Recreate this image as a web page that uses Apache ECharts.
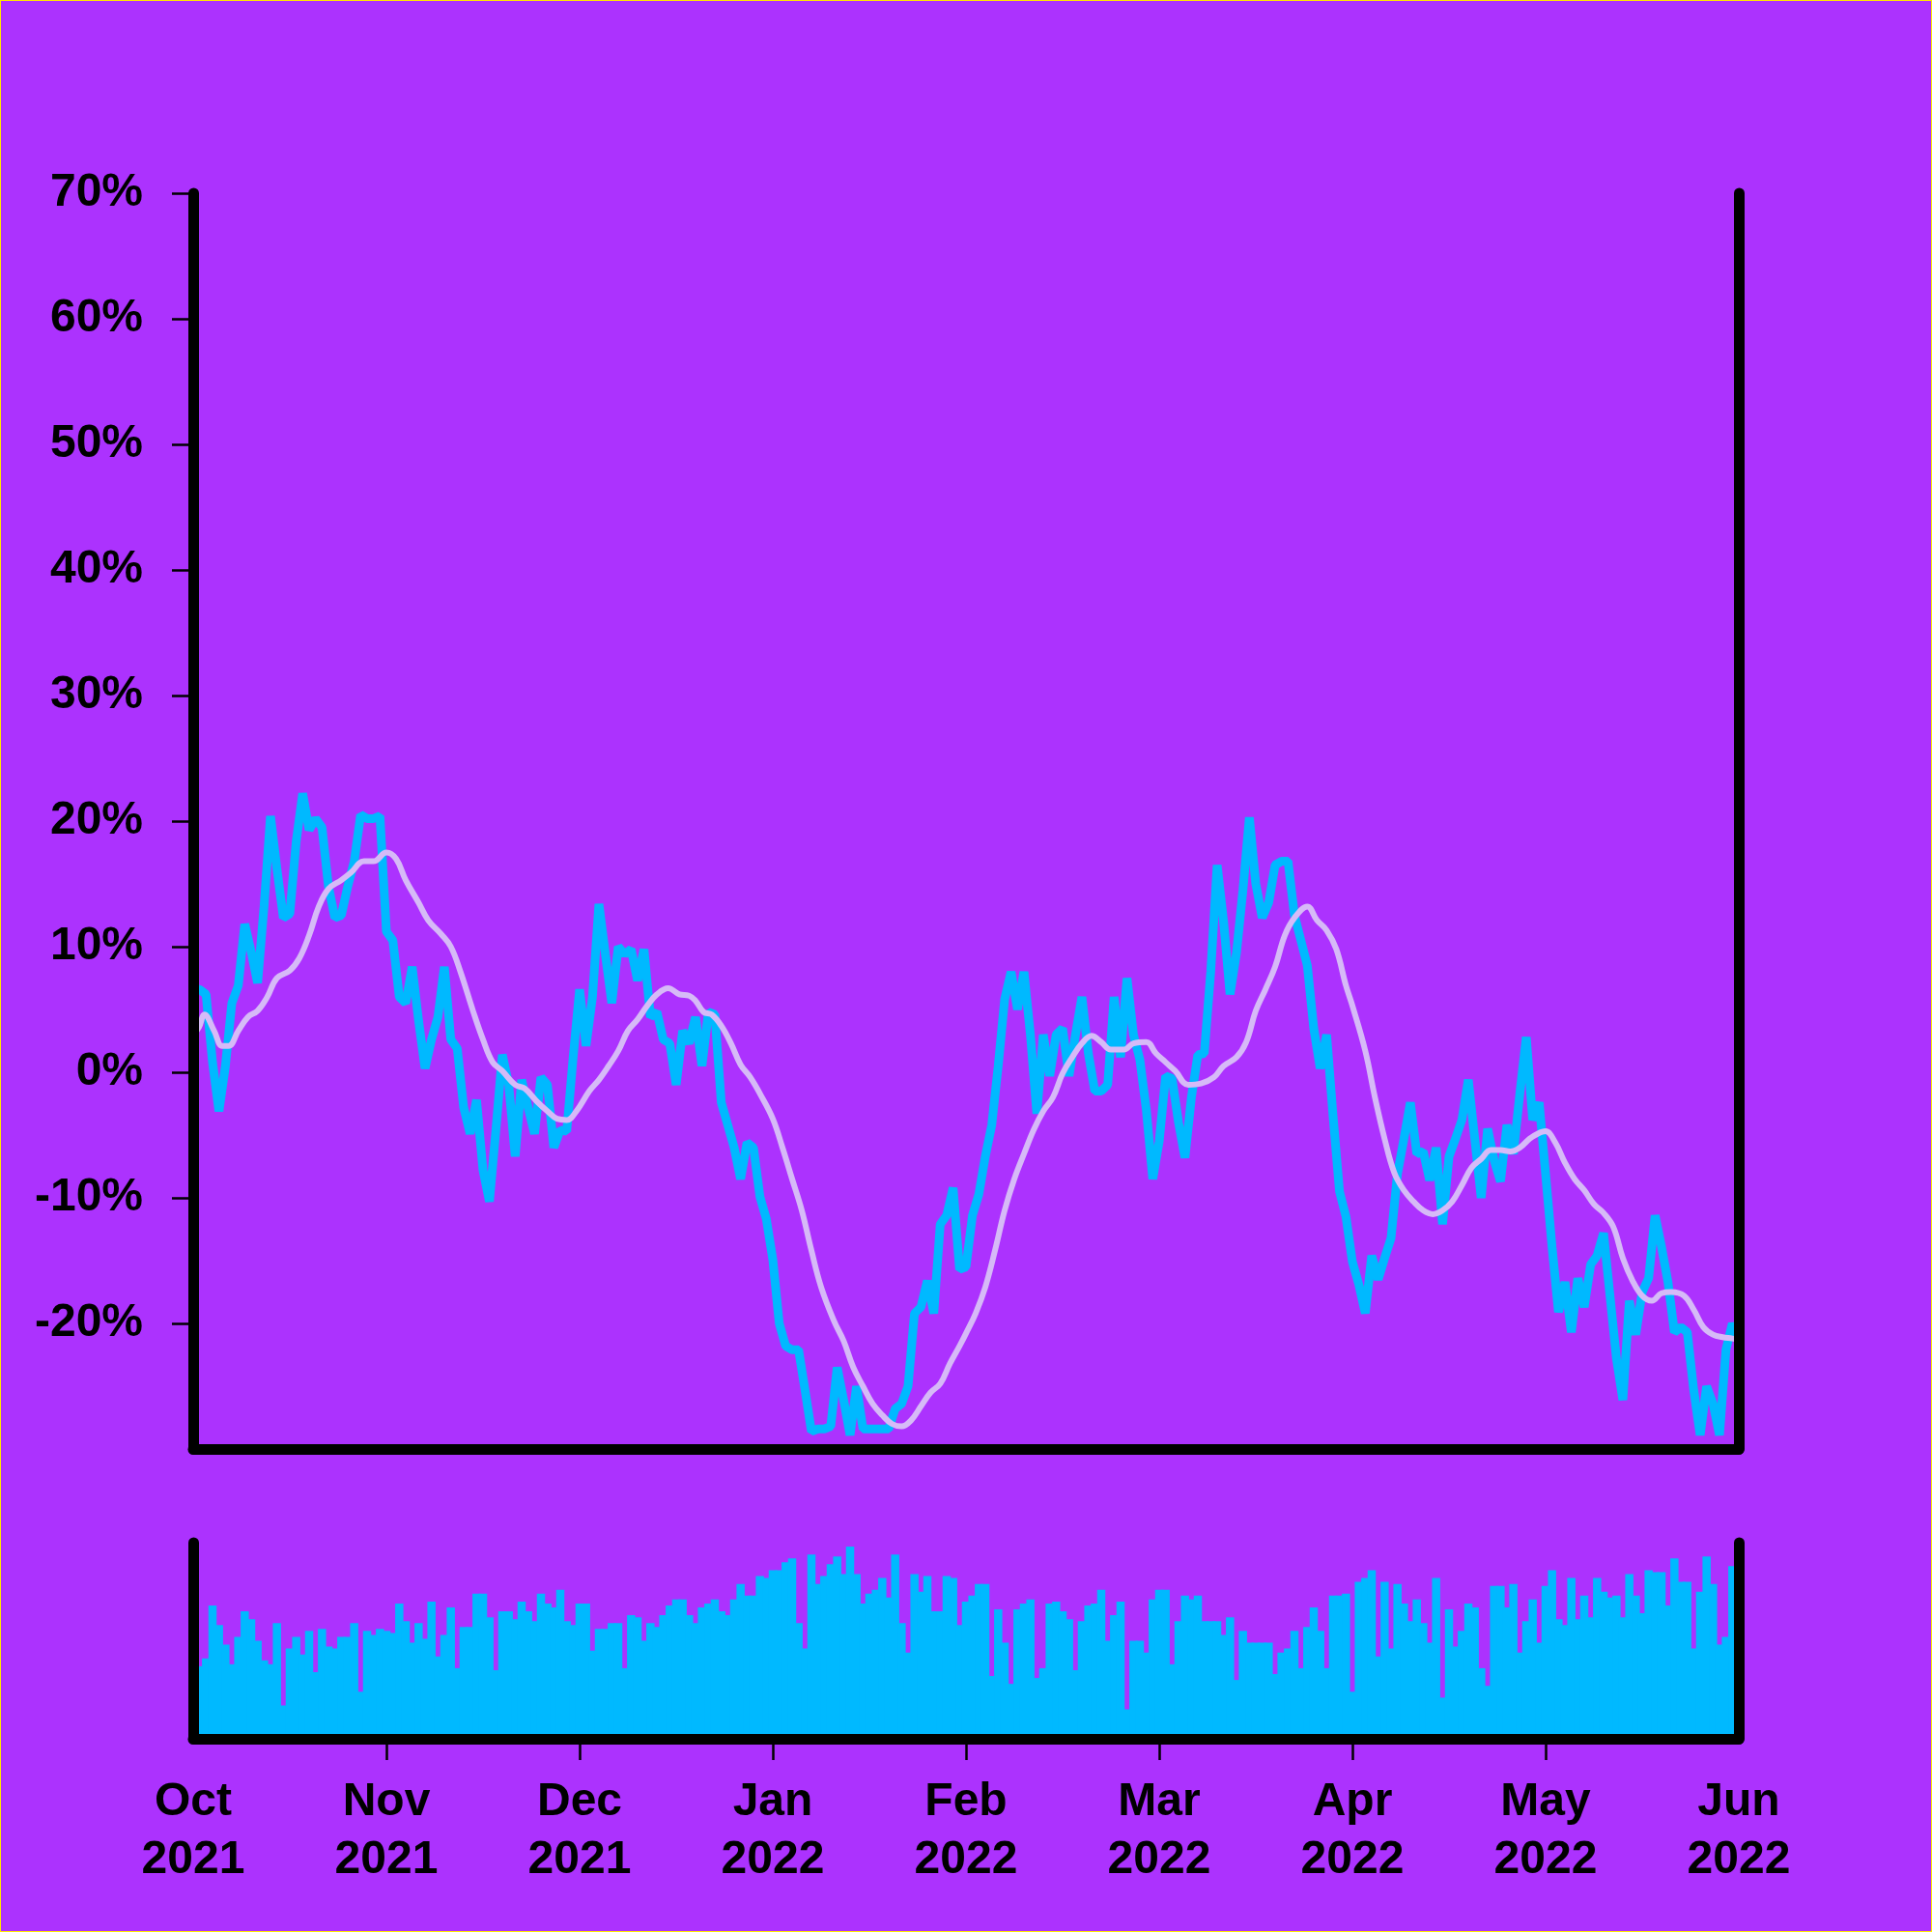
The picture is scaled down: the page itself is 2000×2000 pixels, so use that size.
<!DOCTYPE html>
<html><head><meta charset="utf-8">
<script src="https://cdn.jsdelivr.net/npm/echarts@6/dist/echarts.min.js"></script>
<style>html,body{margin:0;padding:0;background:#AC32FE;}#c{width:2000px;height:2000px;box-sizing:border-box;border:1px solid #FFE600;}</style>
</head><body><div id="c"></div>
<script>
// ---- data ----
const monthLabels = ['Oct\n2021','Nov\n2021','Dec\n2021','Jan\n2022','Feb\n2022','Mar\n2022','Apr\n2022','May\n2022','Jun\n2022'];
const monthTickPos = [0,30,60,90,120,150,180,210,240];
const yTickLabels = [-20,-10,0,10,20,30,40,50,60,70];

// daily return (%) – index 0 = 1 Oct 2021
const returns = [
 6.6, 6.6, 6.2, 0.8, -3.1, 0.5, 5.5, 6.9, 11.8, 9.6,
 7.1, 13.2, 20.4, 16.2, 12.3, 12.6, 18.4, 22.2, 19.3, 20.2,
 19.5, 14.8, 12.3, 12.5, 14.8, 16.8, 20.5, 20.2, 20.2, 20.4,
 11.2, 10.5, 6.0, 5.5, 8.4, 4.1, 0.3, 2.6, 4.4, 8.4,
 2.6, 1.9, -2.8, -4.9, -2.2, -7.8, -10.3, -4.6, 1.4, -1.0,
 -6.7, -0.6, -2.8, -4.9, -0.4, -1.0, -6.0, -4.6, -4.7, 1.2,
 6.6, 2.1, 6.0, 13.4, 9.4, 5.5, 10.0, 9.4, 9.8, 7.3,
 9.8, 4.4, 4.8, 2.6, 2.3, -1.0, 3.3, 2.3, 4.4, 0.5,
 4.8, 4.6, -2.4, -4.2, -6.0, -8.5, -5.6, -6.0, -9.9, -11.7,
 -14.9, -20.0, -21.8, -22.1, -22.1, -25.3, -28.6, -28.4, -28.4, -28.2,
 -23.5, -26.1, -28.9, -25.0, -28.4, -28.4, -28.4, -28.4, -28.4, -26.8,
 -26.4, -25.0, -19.2, -18.7, -16.6, -19.2, -12.1, -11.4, -9.2, -15.7,
 -15.5, -11.4, -9.7, -6.7, -4.2, 0.5, 5.8, 8.0, 5.0, 8.0,
 3.0, -3.3, 3.0, -0.3, 3.0, 3.5, -0.3, 3.0, 6.0, 1.5,
 -1.5, -1.5, -1.0, 6.0, 1.2, 7.5, 3.0, 1.0, -3.0, -8.5,
 -5.5, -0.3, -0.5, -4.0, -6.8, -2.0, 1.4, 1.5, 8.0, 16.5,
 12.0, 6.2, 9.5, 14.5, 20.3, 15.0, 12.3, 13.5, 16.5, 16.8,
 16.8, 12.5, 10.5, 8.5, 3.5, 0.3, 3.0, -3.5, -9.5, -11.5,
 -15.1, -16.9, -19.2, -14.6, -16.5, -14.8, -13.2, -8.1, -5.3, -2.4,
 -6.5, -6.3, -8.6, -6.0, -12.1, -6.7, -5.3, -3.8, -0.6, -5.3,
 -10.0, -4.5, -7.0, -8.7, -4.2, -6.5, -1.7, 2.8, -3.8, -2.4,
 -8.1, -13.9, -19.1, -16.7, -20.7, -16.4, -18.7, -15.3, -14.6, -12.8,
 -17.8, -22.8, -26.1, -18.2, -20.9, -17.5, -16.4, -11.4, -13.9, -16.7,
 -20.7, -20.3, -20.7, -25.3, -28.9, -25.0, -26.4, -28.9, -22.1, -20.0, -21.5
];

// moving-average line (day index, %)
const maX = [0, 0.9, 1.75, 3.25, 4.5, 5.5, 7, 8.5, 10, 11.5, 13, 15, 16.5, 18, 19.5, 21, 23, 24.5, 26.5, 28, 30, 31.5, 33, 35, 36.5, 38.5, 40, 41.5, 43.5, 45, 46.5, 48, 50, 51.5, 53.5, 55, 56.5, 58, 59.5,
 61.5, 63, 64.5, 66, 67.5, 69, 70.5, 72, 73.75, 75.5, 77, 78, 79.25, 80.5, 82, 83.5, 85, 86.5, 88, 90, 91.5, 93, 94.5, 96, 97.5, 99.5, 101, 102.5, 104, 105.5, 107, 108.5, 110, 111.5, 113, 114.5, 116, 117.5, 119,
 120, 121.5, 123, 124.5, 126, 127.5, 129, 130.5, 132, 133.5, 135, 136.5, 138, 139.5, 141, 142.5, 144.5, 146, 148, 149.5, 151, 152.5, 154.5, 156.5, 158.5, 160, 162, 163.5, 165, 166.5, 168, 169.5, 171, 173, 174.5, 176, 177.5, 179,
 180, 182, 183.5, 185, 186.5, 188, 189.5, 191, 192.5, 194, 195.5, 197, 198.5, 200, 201.5, 203, 204.5, 206, 207.5, 208.75, 210, 211.5, 213, 214.5, 216, 217.5, 219, 220.5, 222, 223.5, 225, 226.5, 228, 229.5, 231.5, 233, 234.5, 236, 237.5, 239, 240];
const maY = [3.0, 3.6, 4.6, 3.3, 2.1, 2.1, 3.3, 4.4, 4.9, 6.0, 7.5, 8.1, 9.1, 10.9, 13.2, 14.6, 15.3, 15.9, 16.8, 16.8, 17.5, 17.0, 15.3, 13.5, 12.1, 11.0, 10.0, 8.0, 4.8, 2.6, 0.8, 0.1, -1.0, -1.3, -2.4, -3.1, -3.7, -3.8, -3.1,
 -1.5, -0.6, 0.5, 1.7, 3.3, 4.2, 5.3, 6.2, 6.7, 6.2, 6.1, 5.7, 4.8, 4.6, 3.7, 2.3, 0.6, -0.4, -1.7, -3.7, -6.0, -8.5, -11.0, -14.2, -17.1, -19.8, -21.4, -23.5, -25.0, -26.4, -27.3, -28.0, -28.2, -27.7, -26.6, -25.5, -24.8, -23.2, -21.8,
 -20.8, -19.2, -17.1, -14.2, -11.0, -8.5, -6.5, -4.6, -3.1, -2.0, -0.1, 1.2, 2.3, 2.9, 2.4, 1.8, 1.8, 2.3, 2.4, 1.5, 0.8, 0.1, -1.0, -0.9, -0.4, 0.5, 1.2, 2.4, 4.9, 6.6, 8.4, 10.9, 12.3, 13.2, 12.1, 11.3, 9.8, 6.9,
 5.3, 1.7, -2.0, -5.3, -8.0, -9.4, -10.3, -11.0, -11.3, -11.0, -10.3, -9.0, -7.6, -6.9, -6.2, -6.2, -6.3, -6.0, -5.3, -4.9, -4.7, -5.6, -7.2, -8.5, -9.4, -10.5, -11.2, -12.3, -14.8, -16.6, -17.8, -18.2, -17.6, -17.5, -17.8, -18.9, -20.3, -20.9, -21.1, -21.2, -21.3];

// daily volume (relative units, 0-100)
const volume = [
 38,37,41,68,58,48,38,52,65,61, 50,40,38,59,17,46,52,43,55,34,
 56,47,46,52,52,59,24,55,53,56, 55,54,69,60,49,59,51,70,42,53,
 67,36,57,57,74,74,62,35,65,65, 61,70,65,60,74,69,67,76,60,58,
 69,69,45,56,56,59,59,36,63,62, 50,59,57,63,68,71,71,63,59,67,
 69,71,65,63,71,79,73,73,83,82, 86,86,90,92,59,46,94,79,83,89,
 93,84,98,84,69,74,76,82,72,94, 59,44,84,75,83,65,65,83,82,58,
 70,73,79,79,32,66,49,28,66,69, 71,31,36,69,70,65,61,35,60,68,
 69,76,50,63,70,15,50,50,44,71, 76,76,38,60,73,71,73,60,60,60,
 53,62,30,55,49,49,49,49,33,44, 46,55,36,57,67,55,36,73,73,74,
 24,80,82,86,42,80,46,79,69,60, 71,59,49,82,21,66,47,55,69,67,
 36,27,78,78,67,79,44,60,71,49, 78,86,61,58,82,61,73,62,82,75,
 72,73,62,84,73,64,86,85,85,68, 92,80,80,46,75,93,79,48,52,88, 88
];

// ---- chart ----
const BG = '#AC32FE', BLUE = '#00B9FF', MA = '#D6BAF7', AX = '#000000';
const FONT = 'Liberation Sans';
const axisLineStyle = {color: AX, width: 11, cap: 'round'};
const labelStyle = {color: AX, fontFamily: FONT, fontWeight: 'bold', fontSize: 48};

const chart = echarts.init(document.getElementById('c'), null, {renderer: 'canvas'});
const maData = maX.map((x, i) => [x, maY[i]]);

chart.setOption({
  backgroundColor: BG,
  animation: false,
  grid: [
    {left: 199, right: 199, top: 199, height: 1300},
    {left: 199, right: 199, top: 1596, height: 203}
  ],
  xAxis: [
    {type: 'value', gridIndex: 0, min: 0, max: 240, interval: 30, z: 5,
     axisLine: {show: true, onZero: false, lineStyle: axisLineStyle},
     axisTick: {show: false}, axisLabel: {show: false}, splitLine: {show: false}},
    {type: 'value', gridIndex: 1, min: 0, max: 240, interval: 30, z: 5,
     axisLine: {show: true, onZero: false, lineStyle: axisLineStyle},
     axisTick: {show: true, length: 22, lineStyle: {color: AX, width: 2.5}, customValues: monthTickPos.slice(1, -1)},
     axisLabel: Object.assign({show: true, margin: 36, lineHeight: 60, customValues: monthTickPos,
       formatter: v => monthLabels[Math.round(v / 30)]}, labelStyle),
     splitLine: {show: false}}
  ],
  yAxis: [
    {type: 'value', gridIndex: 0, min: -30, max: 70, interval: 10, position: 'left', z: 5,
     axisLine: {show: true, onZero: false, lineStyle: axisLineStyle},
     axisTick: {show: true, length: 22, lineStyle: {color: AX, width: 2.5}, customValues: yTickLabels},
     axisLabel: Object.assign({margin: 52, customValues: yTickLabels,
       formatter: v => v + '%'}, labelStyle),
     splitLine: {show: false}},
    {type: 'value', gridIndex: 0, min: -30, max: 70, interval: 10, position: 'right', z: 5,
     axisLine: {show: true, onZero: false, lineStyle: axisLineStyle},
     axisTick: {show: false}, axisLabel: {show: false}, splitLine: {show: false}},
    {type: 'value', gridIndex: 1, min: 0, max: 100, position: 'left', z: 5,
     axisLine: {show: true, onZero: false, lineStyle: axisLineStyle},
     axisTick: {show: false}, axisLabel: {show: false}, splitLine: {show: false}},
    {type: 'value', gridIndex: 1, min: 0, max: 100, position: 'right', z: 5,
     axisLine: {show: true, onZero: false, lineStyle: axisLineStyle},
     axisTick: {show: false}, axisLabel: {show: false}, splitLine: {show: false}}
  ],
  series: [
    {type: 'bar', xAxisIndex: 1, yAxisIndex: 2, barWidth: 8.5,
     data: volume.map((v, i) => [i, v]), itemStyle: {color: BLUE}},
    {type: 'line', xAxisIndex: 0, yAxisIndex: 0, showSymbol: false,
     data: returns.map((v, i) => [i, v]), lineStyle: {color: BLUE, width: 9}},
    {type: 'line', xAxisIndex: 0, yAxisIndex: 0, showSymbol: false, smooth: 0.4,
     data: maData, lineStyle: {color: MA, width: 6}}
  ]
});
</script>
</body></html>
